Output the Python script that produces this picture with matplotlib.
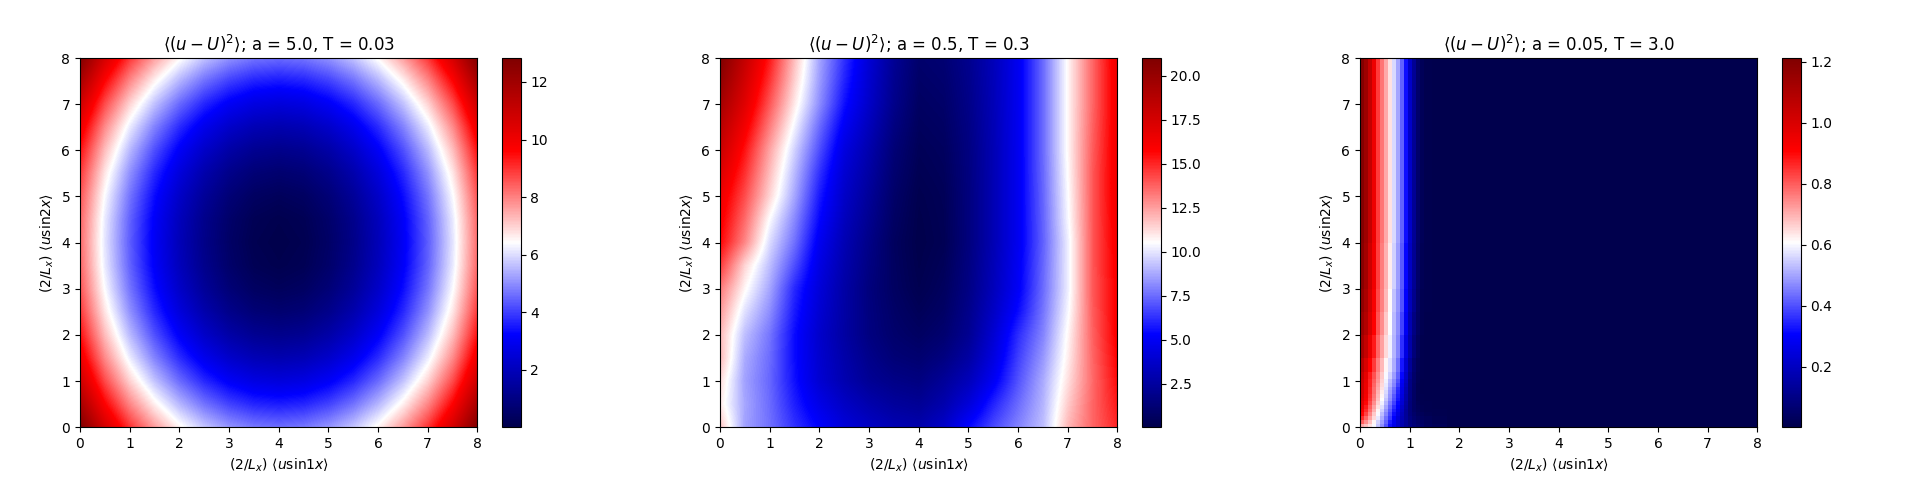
import matplotlib
matplotlib.use("Agg")
import matplotlib.pyplot as plt
import numpy as np

titles = [r"$\langle (u-U)^2 \rangle$; a = 5.0, T = 0.03",
          r"$\langle (u-U)^2 \rangle$; a = 0.5, T = 0.3",
          r"$\langle (u-U)^2 \rangle$; a = 0.05, T = 3.0"]
xlabel = r"$(2/L_x)\ \langle u\mathrm{sin}1x \rangle$"
ylabel = r"$(2/L_x)\ \langle u\mathrm{sin}2x \rangle$"
vmins = [0.01, 0.04, 0.001]
vmaxs = [12.83, 21.0, 1.212]

# Panel 1: nodes every 0.5 in x and y, from y=0 upward
panel1 = [
 [12.8,10.7,9.0,7.66,6.56,5.7,5.09,4.72,4.6,4.72,5.09,5.7,6.56,7.66,9.0,10.7,12.8],
 [11.85,9.65,7.95,6.61,5.51,4.65,4.04,3.67,3.55,3.67,4.04,4.65,5.51,6.61,7.95,9.65,11.85],
 [10.9,8.7,7.0,5.66,4.56,3.7,3.09,2.72,2.6,2.72,3.09,3.7,4.56,5.66,7.0,8.7,10.9],
 [10.1,7.9,6.2,4.86,3.76,2.9,2.29,1.92,1.8,1.92,2.29,2.9,3.76,4.86,6.2,7.9,10.1],
 [9.46,7.26,5.56,4.22,3.12,2.26,1.65,1.28,1.16,1.28,1.65,2.26,3.12,4.22,5.56,7.26,9.46],
 [8.95,6.75,5.05,3.71,2.61,1.75,1.14,.77,.65,.77,1.14,1.75,2.61,3.71,5.05,6.75,8.95],
 [8.59,6.39,4.69,3.35,2.25,1.39,.78,.41,.29,.41,.78,1.39,2.25,3.35,4.69,6.39,8.59],
 [8.37,6.17,4.47,3.13,2.03,1.17,.56,.19,.07,.19,.56,1.17,2.03,3.13,4.47,6.17,8.37],
 [8.3,6.1,4.4,3.06,1.96,1.1,.49,.12,.01,.12,.49,1.1,1.96,3.06,4.4,6.1,8.3],
 [8.37,6.17,4.47,3.13,2.03,1.17,.56,.19,.07,.19,.56,1.17,2.03,3.13,4.47,6.17,8.37],
 [8.59,6.39,4.69,3.35,2.25,1.39,.78,.41,.29,.41,.78,1.39,2.25,3.35,4.69,6.39,8.59],
 [8.95,6.75,5.05,3.71,2.61,1.75,1.14,.77,.65,.77,1.14,1.75,2.61,3.71,5.05,6.75,8.95],
 [9.46,7.26,5.56,4.22,3.12,2.26,1.65,1.28,1.16,1.28,1.65,2.26,3.12,4.22,5.56,7.26,9.46],
 [10.1,7.9,6.2,4.86,3.76,2.9,2.29,1.92,1.8,1.92,2.29,2.9,3.76,4.86,6.2,7.9,10.1],
 [10.9,8.7,7.0,5.66,4.56,3.7,3.09,2.72,2.6,2.72,3.09,3.7,4.56,5.66,7.0,8.7,10.9],
 [11.85,9.65,7.95,6.61,5.51,4.65,4.04,3.67,3.55,3.67,4.04,4.65,5.51,6.61,7.95,9.65,11.85],
 [12.8,10.7,9.0,7.66,6.56,5.7,5.09,4.72,4.6,4.72,5.09,5.7,6.56,7.66,9.0,10.7,12.8],
]

# Panel 2: nodes every 0.5 in x and y, from y=0 upward
panel2 = [
 [11.8,8.6,7.6,6.3,5.25,4.2,3.6,3.1,2.9,3.7,5.4,6.8,8.0,9.2,12.0,13.7,15.0],
 [11.0,8.7,7.5,5.9,4.6,3.6,2.9,2.4,2.2,2.9,4.2,6.0,7.5,9.0,11.6,13.7,15.3],
 [11.3,8.6,7.4,5.6,4.0,3.0,2.2,1.8,1.6,2.3,3.3,5.0,7.0,8.8,11.2,13.6,15.6],
 [12.0,8.8,7.5,5.5,3.9,2.8,1.9,1.3,1.1,1.6,2.6,4.4,6.6,8.4,10.9,13.7,15.8],
 [12.0,9.2,7.7,5.5,3.8,2.6,1.6,1.0,.7,1.1,2.1,4.0,6.2,8.0,10.7,13.8,16.0],
 [12.6,9.9,8.2,5.8,4.0,2.65,1.55,.85,.42,.8,1.9,3.6,5.5,7.7,10.4,13.9,16.0],
 [13.3,10.7,8.7,6.1,4.2,2.7,1.5,.7,.2,.6,1.7,3.3,5.1,7.5,10.2,14.0,16.0],
 [14.6,11.4,9.2,6.9,4.5,2.9,1.65,.65,.1,.45,1.6,3.2,5.0,7.4,10.2,14.0,16.1],
 [15.7,13.0,9.8,7.6,4.9,3.1,1.8,.6,.04,.3,1.5,3.1,4.9,7.3,10.2,14.0,16.2],
 [16.1,13.6,10.5,8.1,5.4,3.4,2.05,.75,.08,.35,1.5,3.1,4.9,7.35,10.4,14.0,16.3],
 [16.5,14.2,11.4,8.7,5.8,3.7,2.3,.9,.15,.4,1.5,3.1,4.9,7.4,10.5,14.0,16.4],
 [17.2,14.8,11.9,9.1,6.3,4.0,2.6,1.1,.28,.5,1.55,3.1,4.9,7.45,10.6,14.0,16.4],
 [18.0,15.4,12.4,9.6,6.9,4.4,2.9,1.3,.4,.6,1.6,3.1,4.9,7.5,10.7,13.9,16.4],
 [18.7,16.2,13.2,10.3,7.5,5.0,3.3,1.6,.55,.75,1.7,3.15,4.9,7.5,10.7,13.8,16.4],
 [19.5,17.0,14.0,11.0,8.2,5.6,3.7,1.9,.7,.9,1.8,3.2,4.9,7.5,10.7,13.7,16.4],
 [20.3,17.6,14.7,11.5,8.5,6.0,3.9,2.05,.85,1.05,1.9,3.25,4.9,7.5,10.7,13.7,16.4],
 [21.0,18.2,15.3,11.9,8.7,6.3,4.1,2.2,1.0,1.2,2.0,3.3,4.9,7.5,10.7,13.7,16.5],
]

# Panel 3: cells with the widths and heights of the edge lists
panel3_xedges = [0,.08,.16,.24,.32,.40,.48,.56,.64,.72,.80,.88,.96,1.04,1.12,1.20,1.28,1.44,1.76,8]
panel3_yedges = [0,.08,.16,.24,.32,.40,.48,.56,.64,.72,.80,.88,.96,1.04,1.2,1.5,2,2.5,3,4,8]
panel3 = [
 [.71,.68,.64,.60,.54,.47,.40,.32,.27,.22,.17,.13,.10,.08,.06,.05,.03,.02,.002],
 [.80,.74,.68,.62,.55,.49,.42,.34,.28,.22,.17,.13,.09,.07,.05,.04,.025,.015,.002],
 [.86,.79,.72,.65,.58,.51,.44,.37,.30,.24,.18,.13,.09,.06,.04,.03,.02,.012,.002],
 [.90,.83,.75,.67,.60,.53,.46,.39,.32,.26,.19,.13,.08,.05,.03,.02,.015,.01,.002],
 [.93,.86,.78,.70,.62,.55,.48,.41,.34,.28,.20,.13,.08,.04,.025,.015,.01,.007,.002],
 [.96,.88,.80,.72,.64,.57,.50,.43,.36,.30,.21,.14,.08,.04,.02,.012,.008,.005,.002],
 [.98,.90,.82,.74,.66,.59,.52,.45,.38,.31,.23,.15,.08,.04,.016,.01,.006,.004,.002],
 [1.0,.92,.84,.76,.68,.61,.54,.47,.40,.33,.24,.16,.085,.04,.014,.008,.005,.003,.002],
 [1.01,.93,.85,.77,.69,.62,.55,.48,.41,.34,.25,.16,.09,.04,.014,.006,.004,.002,.002],
 [1.02,.94,.86,.78,.70,.63,.56,.49,.43,.35,.26,.17,.09,.04,.015,.005,.003,.002,.002],
 [1.03,.95,.86,.78,.71,.64,.57,.50,.44,.36,.27,.18,.095,.045,.015,.005,.003,.002,.002],
 [1.03,.95,.87,.79,.72,.65,.58,.52,.46,.38,.28,.19,.10,.045,.015,.005,.003,.002,.002],
 [1.04,.96,.87,.80,.73,.66,.59,.53,.47,.40,.29,.20,.10,.05,.016,.005,.003,.002,.002],
 [1.05,.97,.88,.81,.74,.67,.60,.55,.49,.42,.31,.21,.11,.05,.018,.006,.003,.002,.002],
 [1.08,1.0,.91,.84,.76,.69,.62,.57,.51,.44,.33,.23,.13,.06,.02,.007,.003,.002,.002],
 [1.12,1.05,.96,.88,.79,.72,.65,.59,.52,.46,.36,.26,.16,.08,.03,.01,.004,.002,.002],
 [1.15,1.09,1.0,.91,.81,.74,.67,.605,.525,.47,.38,.285,.175,.095,.04,.012,.005,.002,.002],
 [1.17,1.11,1.02,.925,.825,.755,.69,.615,.535,.48,.40,.30,.19,.11,.045,.015,.006,.002,.002],
 [1.19,1.125,1.03,.94,.835,.76,.70,.63,.55,.49,.41,.31,.20,.12,.05,.018,.007,.003,.002],
 [1.20,1.14,1.05,.95,.84,.77,.71,.64,.56,.50,.42,.32,.21,.125,.056,.02,.008,.003,.002],
]

W, H = 1920, 480
fig = plt.figure(figsize=(W/100, H/100), dpi=100)

def box(l, r, t=58.0, b=427.2):
    return [l/W, 1-b/H, (r-l)/W, (b-t)/H]

for i in range(3):
    off = 640*i
    ax = fig.add_axes(box(80+off, 477.4+off))
    cax = fig.add_axes(box(502.3+off, 520.6+off))
    if i < 2:
        im = ax.imshow(np.array([panel1, panel2][i]), origin="lower",
                       extent=(-.25, 8.25, -.25, 8.25),
                       aspect="auto", cmap="seismic", vmin=vmins[i], vmax=vmaxs[i],
                       interpolation="bilinear")
    else:
        im = ax.pcolormesh(panel3_xedges, panel3_yedges, np.array(panel3), cmap="seismic",
                           vmin=vmins[i], vmax=vmaxs[i], shading="flat")
    ax.set_xlim(0, 8)
    ax.set_ylim(0, 8)
    ax.set_title(titles[i])
    ax.set_xlabel(xlabel)
    ax.set_ylabel(ylabel)
    fig.colorbar(im, cax=cax)

fig.savefig("out.png", dpi=100)
